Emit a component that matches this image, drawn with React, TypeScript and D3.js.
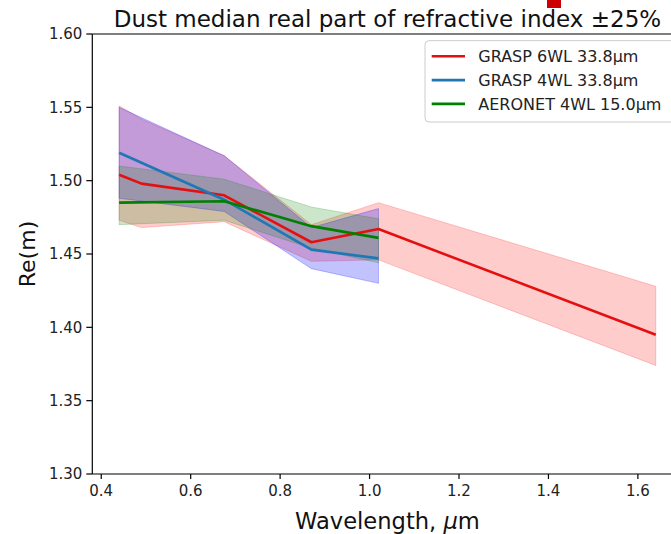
import React from "react";
import * as d3 from "d3";

const wl6 = [0.44, 0.49, 0.675, 0.87, 1.02, 1.64];
const grasp6Median = [1.504, 1.498, 1.49, 1.458, 1.467, 1.395];
const grasp6Upper = [1.551, 1.542, 1.517, 1.47, 1.485, 1.428];
const grasp6Lower = [1.473, 1.468, 1.472, 1.445, 1.446, 1.374];

const wl4 = [0.44, 0.675, 0.87, 1.02];
const grasp4Median = [1.519, 1.487, 1.453, 1.447];
const grasp4Upper = [1.55, 1.517, 1.468, 1.481];
const grasp4Lower = [1.488, 1.479, 1.44, 1.43];

const aeronetMedian = [1.485, 1.486, 1.469, 1.461];
const aeronetUpper = [1.51, 1.501, 1.482, 1.474];
const aeronetLower = [1.47, 1.473, 1.454, 1.444];

const xTicks = [0.4, 0.6, 0.8, 1.0, 1.2, 1.4, 1.6];
const yTicks = [1.3, 1.35, 1.4, 1.45, 1.5, 1.55, 1.6];
const legendLabels = ["GRASP 6WL 33.8μm", "GRASP 4WL 33.8μm", "AERONET 4WL 15.0μm"];

const W = 671;
const H = 534;
const FONT = "'DejaVu Sans', sans-serif";

export default function App() {
  const x = d3.scaleLinear().domain([0.38, 1.7]).range([92.3, 682.6]);
  const y = d3.scaleLinear().domain([1.3, 1.6]).range([474, 34]);

  const series = [
    { wl: wl6, med: grasp6Median, up: grasp6Upper, lo: grasp6Lower, line: "#e41010", fill: "#ff0000", op: 0.2 },
    { wl: wl4, med: grasp4Median, up: grasp4Upper, lo: grasp4Lower, line: "#1f77b4", fill: "#0000ff", op: 0.24 },
    { wl: wl4, med: aeronetMedian, up: aeronetUpper, lo: aeronetLower, line: "#008000", fill: "#008000", op: 0.2 },
  ];

  const area = d3
    .area<[number, number, number]>()
    .x((d) => x(d[0]))
    .y0((d) => y(d[2]))
    .y1((d) => y(d[1]));
  const line = d3
    .line<[number, number]>()
    .x((d) => x(d[0]))
    .y((d) => y(d[1]));

  const x0 = 92.3;
  const x1 = 682.6;
  const yTop = 34;
  const yBot = 474;

  return (
    <svg
      width={W}
      height={H}
      style={{ position: "absolute", left: 0, top: 0, background: "#fff" }}
      fontFamily={FONT}
    >
      <rect x={0} y={0} width={W} height={H} fill="#fff" />
      <rect x={547} y={0} width={14} height={8} fill="#cc0000" />

      {series.map((s, i) => (
        <path
          key={"a" + i}
          d={area(s.wl.map((w, j) => [w, s.up[j], s.lo[j]]))!}
          fill={s.fill}
          fillOpacity={s.op}
          stroke={s.fill}
          strokeOpacity={s.op}
          strokeWidth={1}
        />
      ))}
      {series.map((s, i) => (
        <path
          key={"l" + i}
          d={line(s.wl.map((w, j) => [w, s.med[j]]))!}
          fill="none"
          stroke={s.line}
          strokeWidth={2.6}
          strokeLinejoin="round"
        />
      ))}

      {/* spines */}
      <line x1={x0} x2={x0} y1={yTop} y2={yBot} stroke="#000" strokeWidth={1.2} />
      <line x1={x0} x2={W} y1={yBot} y2={yBot} stroke="#000" strokeWidth={1.2} />
      <line x1={x0} x2={W} y1={yTop} y2={yTop} stroke="#000" strokeWidth={1.2} />

      {xTicks.map((t) => (
        <g key={"xt" + t}>
          <line x1={x(t)} x2={x(t)} y1={yBot} y2={yBot + 5} stroke="#000" strokeWidth={1.2} />
          <text x={x(t)} y={yBot + 22} textAnchor="middle" fontSize={15} fill="#222">
            {t.toFixed(1)}
          </text>
        </g>
      ))}
      {yTicks.map((t) => (
        <g key={"yt" + t}>
          <line x1={x0 - 6} x2={x0} y1={y(t)} y2={y(t)} stroke="#000" strokeWidth={1.2} />
          <text x={x0 - 10} y={y(t) + 5.3} textAnchor="end" fontSize={15} fill="#222">
            {t.toFixed(2)}
          </text>
        </g>
      ))}

      <text x={(x0 + x1) / 2} y={27} textAnchor="middle" fontSize={23} fill="#111">
        Dust median real part of refractive index ±25%
      </text>
      <text x={(x0 + x1) / 2} y={529} textAnchor="middle" fontSize={22.6} fill="#111">
        Wavelength, <tspan fontStyle="italic">μ</tspan>m
      </text>
      <text
        transform={`translate(35,${(yTop + yBot) / 2}) rotate(-90)`}
        textAnchor="middle"
        fontSize={22}
        fill="#111"
      >
        Re(m)
      </text>

      {/* legend */}
      <rect x={425} y={40.7} width={250} height={81.3} rx={4} fill="#fff" fillOpacity={0.8} stroke="#ccc" strokeWidth={1} />
      {legendLabels.map((lab, i) => (
        <g key={"lg" + i}>
          <line x1={431.7} x2={465} y1={56.3 + i * 23.8} y2={56.3 + i * 23.8} stroke={series[i].line} strokeWidth={2.6} />
          <text x={478.3} y={56.3 + i * 23.8 + 5.8} fontSize={16} fill="#222">
            {lab}
          </text>
        </g>
      ))}
    </svg>
  );
}
